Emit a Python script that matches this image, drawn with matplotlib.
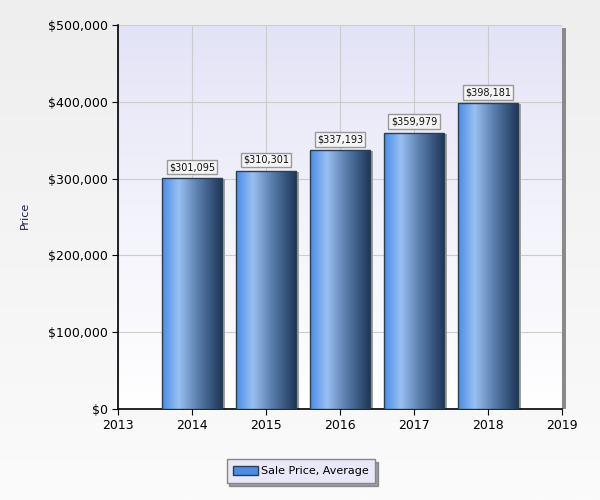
import matplotlib
matplotlib.use("Agg")
import matplotlib.pyplot as plt
import numpy as np
from matplotlib.colors import LinearSegmentedColormap
from matplotlib.patches import Rectangle
from matplotlib.ticker import FuncFormatter
import matplotlib.transforms as mtransforms

years = [2014, 2015, 2016, 2017, 2018]
prices = [301095, 310301, 337193, 359979, 398181]
xticks = [2013, 2014, 2015, 2016, 2017, 2018, 2019]
yticks = [0, 100000, 200000, 300000, 400000, 500000]
series_name = "Sale Price, Average"
ylabel = "Price"

fig = plt.figure(figsize=(6, 5), dpi=100)
# figure background gradient
bg = fig.add_axes([0, 0, 1, 1], zorder=-10)
bgcm = LinearSegmentedColormap.from_list("bg", ["#eeeeee", "#fbfbfb"])
bg.imshow(np.linspace(0, 1, 256).reshape(-1, 1), aspect="auto", cmap=bgcm,
          extent=[0, 1, 0, 1], origin="upper")
bg.set_axis_off()

L, B, W, H = 118/600, 91/500, 444/600, 384/500
# plot area shadow (right side only)
fig.patches.append(Rectangle((L + W, B), 4/600, H - 3/500, transform=fig.transFigure,
                             facecolor="#8a8a8a", edgecolor="none", zorder=-5))
ax = fig.add_axes([L, B, W, H])
ax.set_xlim(2013, 2019)
ax.set_ylim(0, 500000)
ax.patch.set_alpha(0)
pacm = LinearSegmentedColormap.from_list("pa", ["#e3e3f7", "#f3f3fb", "#ffffff"])
ax.imshow(np.linspace(0, 1, 256).reshape(-1, 1), aspect="auto", cmap=pacm,
          extent=[2013, 2019, 0, 500000], origin="upper", zorder=0)

ax.grid(True, color="#cccccc", linewidth=0.8, zorder=1)
ax.set_axisbelow(True)

barcm = LinearSegmentedColormap.from_list(
    "bar", [(0, "#4a8ce6"), (0.28, "#98c0f2"), (0.6, "#5a7eac"), (1, "#1e3758")])
grad = np.linspace(0, 1, 256).reshape(1, -1)
bw = 0.8
# shadows
shadow_tr = ax.transData + mtransforms.ScaledTranslation(3/100, -1/100, fig.dpi_scale_trans)
ax.bar(years, prices, width=bw, color="#a0a0a0", zorder=2, transform=shadow_tr)
bars = ax.bar(years, prices, width=bw, facecolor="none", edgecolor="#2a4050",
              linewidth=1.0, zorder=4)
for b in bars:
    x0, y0 = b.get_x(), b.get_y()
    im = ax.imshow(grad, aspect="auto", cmap=barcm,
                   extent=[x0, x0 + b.get_width(), y0, y0 + b.get_height()], zorder=3)
    im.set_clip_path(b)
    ax.text(b.get_x() + b.get_width()/2, b.get_height() + 14000,
            "${:,}".format(int(b.get_height())), ha="center", va="center",
            fontsize=7, color="#111111", zorder=5,
            bbox=dict(boxstyle="square,pad=0.25", facecolor="#f4f4f4",
                      edgecolor="#999999", linewidth=1))

ax.set_xlim(2013, 2019)
ax.set_ylim(0, 500000)
ax.set_xticks(xticks)
ax.set_yticks(yticks)
ax.yaxis.set_major_formatter(FuncFormatter(lambda v, p: "${:,.0f}".format(v)))
ax.tick_params(labelsize=9, colors="black", length=4)
for s in ["top", "right"]:
    ax.spines[s].set_visible(False)
ax.spines["left"].set_color("black")
ax.spines["bottom"].set_color("black")
ax.spines["left"].set_linewidth(1.2)
ax.spines["bottom"].set_linewidth(1.2)
ax.set_ylabel(ylabel, fontsize=8, color="#1a1a5a")
ax.yaxis.set_label_coords(-0.198, 0.505)

# legend
handle = Rectangle((0, 0), 1, 1, facecolor="#4a8ce6", edgecolor="#2a4050")
leg = fig.legend([handle], [series_name], loc="center", bbox_to_anchor=(301/600, 1 - 471/500),
                 fontsize=8, frameon=True, fancybox=False, shadow=True,
                 handlelength=2.2, handleheight=0.9, borderpad=0.6, handletextpad=0.3,
                 borderaxespad=0)
leg.get_frame().set_facecolor("#e8e8f8")
leg.get_frame().set_edgecolor("#888888")

fig.savefig("out.png", dpi=100)
